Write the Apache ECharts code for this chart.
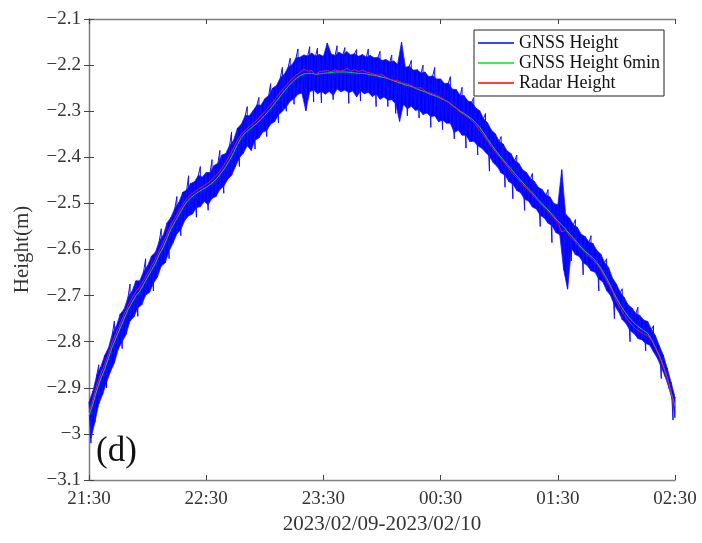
<!DOCTYPE html>
<html>
<head>
<meta charset="utf-8">
<script src="https://cdn.jsdelivr.net/npm/echarts@6/dist/echarts.min.js"></script>
<style>html,body{margin:0;padding:0;background:#fff;}#c{width:702px;height:543px;}</style>
</head>
<body>
<div id="c"></div>
<script>
// Time axis in minutes after 21:30 (2023/02/09). Samples every 2 minutes (0..300).
const SAMPLE_STEP_MIN = 2;
const xTickLabels = ['21:30', '22:30', '23:30', '00:30', '01:30', '02:30'];
const yTickLabels = ['\u22123.1', '\u22123', '\u22122.9', '\u22122.8', '\u22122.7', '\u22122.6', '\u22122.5', '\u22122.4', '\u22122.3', '\u22122.2', '\u22122.1'];
const seriesNames = ['GNSS Height', 'GNSS Height 6min', 'Radar Height'];

// GNSS Height raw noise band: upper and lower excursions read per 2-minute slot
const gnssHigh = [
-2.93,-2.907,-2.872,-2.855,-2.83,-2.813,-2.782,-2.766,-2.74,-2.729,
-2.703,-2.691,-2.668,-2.668,-2.647,-2.635,-2.614,-2.606,-2.581,-2.569,
-2.542,-2.53,-2.51,-2.498,-2.476,-2.471,-2.457,-2.453,-2.439,-2.443,
-2.433,-2.433,-2.418,-2.413,-2.395,-2.392,-2.374,-2.363,-2.337,-2.328,
-2.309,-2.31,-2.299,-2.286,-2.287,-2.273,-2.266,-2.25,-2.244,-2.227,
-2.22,-2.204,-2.199,-2.184,-2.183,-2.178,-2.18,-2.174,-2.18,-2.177,
-2.181,-2.152,-2.176,-2.179,-2.172,-2.177,-2.171,-2.178,-2.175,-2.181,
-2.177,-2.183,-2.179,-2.184,-2.183,-2.19,-2.188,-2.193,-2.191,-2.198,
-2.15,-2.205,-2.202,-2.211,-2.21,-2.217,-2.215,-2.225,-2.223,-2.23,
-2.23,-2.24,-2.239,-2.252,-2.253,-2.266,-2.266,-2.278,-2.28,-2.293,
-2.299,-2.316,-2.325,-2.341,-2.349,-2.365,-2.371,-2.386,-2.392,-2.407,
-2.413,-2.427,-2.433,-2.446,-2.452,-2.465,-2.47,-2.482,-2.486,-2.50,
-2.503,-2.427,-2.523,-2.532,-2.546,-2.552,-2.567,-2.572,-2.584,-2.587,
-2.602,-2.61,-2.628,-2.639,-2.662,-2.675,-2.693,-2.704,-2.72,-2.727,
-2.739,-2.743,-2.753,-2.756,-2.773,-2.787,-2.809,-2.829,-2.857,-2.888,
-2.92
];
const gnssLow = [
-3.01,-2.975,-2.935,-2.914,-2.888,-2.865,-2.846,-2.816,-2.80,-2.784,
-2.755,-2.746,-2.727,-2.72,-2.699,-2.693,-2.673,-2.66,-2.636,-2.629,
-2.603,-2.586,-2.566,-2.557,-2.537,-2.527,-2.523,-2.509,-2.507,-2.496,
-2.503,-2.489,-2.485,-2.47,-2.463,-2.448,-2.439,-2.42,-2.401,-2.391,
-2.375,-2.385,-2.363,-2.358,-2.345,-2.342,-2.328,-2.323,-2.308,-2.30,
-2.291,-2.278,-2.273,-2.263,-2.261,-2.299,-2.258,-2.254,-2.262,-2.257,
-2.263,-2.257,-2.266,-2.252,-2.258,-2.254,-2.26,-2.256,-2.269,-2.256,
-2.262,-2.259,-2.268,-2.263,-2.274,-2.269,-2.276,-2.275,-2.284,-2.322,
-2.285,-2.295,-2.289,-2.298,-2.297,-2.307,-2.304,-2.312,-2.31,-2.323,
-2.319,-2.326,-2.326,-2.347,-2.341,-2.352,-2.352,-2.366,-2.365,-2.375,
-2.38,-2.389,-2.398,-2.412,-2.42,-2.434,-2.439,-2.453,-2.458,-2.472,
-2.477,-2.491,-2.495,-2.508,-2.512,-2.526,-2.531,-2.543,-2.548,-2.563,
-2.568,-2.644,-2.686,-2.598,-2.611,-2.615,-2.629,-2.634,-2.646,-2.649,
-2.664,-2.67,-2.689,-2.70,-2.721,-2.734,-2.752,-2.761,-2.776,-2.782,
-2.793,-2.796,-2.804,-2.807,-2.822,-2.836,-2.856,-2.876,-2.902,-2.932,
-2.965
];
// Isolated GNSS spikes beyond the band edges (minute, height)
const spikeMinutes = [
1,5,9,13,17,21,25,29,33,37,41,45,47,51,55,57,61,63,67,69,
73,77,81,85,87,91,93,97,99,101,103,105,107,113,115,117,119,125,127,131,
133,137,139,143,147,149,153,155,157,163,165,169,171,175,177,181,185,187,191,193,
197,199,203,205,211,213,217,219,223,227,231,235,237,247,249,253,257,261,265,269,
273,277,281,285,289,293,299
];
const spikeValues = [
-3.02,-2.85,-2.90,-2.755,-2.815,-2.675,-2.745,-2.62,-2.69,-2.555,-2.62,-2.485,-2.57,-2.44,-2.53,-2.42,-2.515,-2.405,-2.385,-2.478,
-2.345,-2.42,-2.29,-2.382,-2.27,-2.355,-2.24,-2.325,-2.205,-2.30,-2.185,-2.285,-2.165,-2.16,-2.28,-2.163,-2.282,-2.275,-2.158,-2.162,
-2.283,-2.166,-2.278,-2.165,-2.29,-2.17,-2.29,-2.178,-2.305,-2.31,-2.19,-2.315,-2.20,-2.335,-2.205,-2.34,-2.225,-2.36,-2.248,-2.38,
-2.27,-2.395,-2.305,-2.43,-2.355,-2.465,-2.49,-2.395,-2.515,-2.435,-2.55,-2.47,-2.585,-2.625,-2.535,-2.655,-2.57,-2.69,-2.62,-2.75,
-2.685,-2.80,-2.725,-2.82,-2.765,-2.88,-2.97
];
// GNSS Height 6-min smoothed
const gnss6min = [
-2.96,-2.935,-2.905,-2.88,-2.86,-2.835,-2.81,-2.79,-2.77,-2.75,
-2.73,-2.715,-2.70,-2.69,-2.675,-2.66,-2.645,-2.63,-2.61,-2.595,
-2.575,-2.555,-2.54,-2.525,-2.51,-2.497,-2.488,-2.481,-2.475,-2.47,
-2.465,-2.459,-2.452,-2.443,-2.432,-2.42,-2.406,-2.39,-2.372,-2.357,
-2.347,-2.34,-2.333,-2.326,-2.318,-2.309,-2.299,-2.289,-2.278,-2.267,
-2.256,-2.246,-2.237,-2.229,-2.223,-2.219,-2.218,-2.218,-2.22,-2.219,
-2.218,-2.217,-2.216,-2.215,-2.215,-2.215,-2.215,-2.216,-2.217,-2.218,
-2.218,-2.219,-2.221,-2.222,-2.224,-2.226,-2.228,-2.231,-2.234,-2.237,
-2.24,-2.243,-2.245,-2.248,-2.252,-2.255,-2.258,-2.262,-2.265,-2.268,
-2.272,-2.276,-2.28,-2.287,-2.293,-2.30,-2.305,-2.311,-2.317,-2.325,
-2.335,-2.347,-2.36,-2.372,-2.384,-2.395,-2.405,-2.415,-2.425,-2.435,
-2.445,-2.455,-2.464,-2.473,-2.482,-2.492,-2.501,-2.51,-2.519,-2.528,
-2.538,-2.547,-2.556,-2.566,-2.575,-2.585,-2.595,-2.604,-2.611,-2.618,
-2.628,-2.64,-2.655,-2.67,-2.688,-2.705,-2.72,-2.733,-2.745,-2.755,
-2.763,-2.77,-2.776,-2.782,-2.795,-2.812,-2.83,-2.853,-2.877,-2.91,
-2.94
];
// Radar Height
const radar = [
-2.952,-2.925,-2.895,-2.87,-2.85,-2.826,-2.80,-2.781,-2.761,-2.741,
-2.722,-2.706,-2.692,-2.681,-2.667,-2.652,-2.637,-2.621,-2.602,-2.586,
-2.566,-2.547,-2.532,-2.517,-2.503,-2.49,-2.481,-2.475,-2.469,-2.464,
-2.458,-2.452,-2.444,-2.435,-2.424,-2.411,-2.396,-2.38,-2.363,-2.35,
-2.341,-2.334,-2.327,-2.319,-2.31,-2.301,-2.291,-2.281,-2.27,-2.259,
-2.249,-2.239,-2.23,-2.222,-2.216,-2.209,-2.213,-2.212,-2.221,-2.214,
-2.213,-2.212,-2.214,-2.21,-2.213,-2.212,-2.207,-2.213,-2.21,-2.214,
-2.211,-2.215,-2.217,-2.22,-2.222,-2.221,-2.226,-2.23,-2.233,-2.233,
-2.238,-2.24,-2.242,-2.247,-2.25,-2.249,-2.256,-2.26,-2.262,-2.266,
-2.27,-2.275,-2.281,-2.288,-2.294,-2.302,-2.307,-2.313,-2.32,-2.33,
-2.341,-2.352,-2.364,-2.377,-2.388,-2.398,-2.408,-2.419,-2.43,-2.44,
-2.449,-2.459,-2.468,-2.477,-2.486,-2.495,-2.505,-2.513,-2.522,-2.531,
-2.541,-2.562,-2.558,-2.571,-2.579,-2.589,-2.598,-2.607,-2.615,-2.622,
-2.632,-2.644,-2.659,-2.675,-2.69,-2.712,-2.728,-2.741,-2.754,-2.764,
-2.772,-2.778,-2.783,-2.787,-2.797,-2.813,-2.832,-2.855,-2.879,-2.912,
-2.942
];

const X_MAX = 300;
const lowTime = i => Math.min(i * SAMPLE_STEP_MIN + SAMPLE_STEP_MIN / 2, X_MAX);
// Build series data (band drawn as alternating high/low excursions plus spikes)
const gnssData = [];
for (let i = 0; i < gnssHigh.length; i++) {
  gnssData.push([i * SAMPLE_STEP_MIN, gnssHigh[i], 0]);
  gnssData.push([lowTime(i), gnssLow[i], 2]);
}
spikeMinutes.forEach((m, k) => gnssData.push([m, spikeValues[k], 1]));
gnssData.sort((a, b) => (a[0] - b[0]) || (a[2] - b[2]));
const gnssLine = gnssData.map(p => [p[0], p[1]]);
const g6Data = gnss6min.map((v, i) => [i * SAMPLE_STEP_MIN, v]);
const radarData = radar.map((v, i) => [i * SAMPLE_STEP_MIN, v]);

const serif = 'Liberation Serif';
const chart = echarts.init(document.getElementById('c'), null, {renderer: 'canvas'});
const boxLine = {show: true, lineStyle: {color: '#808080', width: 1.3}};
const tick = {show: true, inside: true, length: 5, lineStyle: {color: '#444', width: 1}};

chart.setOption({
  animation: false,
  backgroundColor: '#fff',
  grid: {left: 89, right: 27, top: 19, bottom: 63, outerBoundsMode: 'none'},
  legend: {
    left: 474, top: 30, orient: 'vertical',
    data: seriesNames,
    icon: 'rect', itemWidth: 36, itemHeight: 1.3, itemGap: 0,
    padding: [3, 4, 3, 4],
    backgroundColor: '#fff', borderColor: '#222', borderWidth: 1,
    textStyle: {fontFamily: serif, fontSize: 18, color: '#111', lineHeight: 20, padding: [0,0,0,0]}
  },
  xAxis: [{
    type: 'value', min: 0, max: X_MAX, interval: 60,
    axisLine: boxLine, axisTick: tick, splitLine: {show: false},
    axisLabel: {fontFamily: serif, fontSize: 19, color: '#333', margin: 10,
      formatter: v => xTickLabels[Math.round(v / 60)]},
    name: '2023/02/09-2023/02/10', nameLocation: 'middle', nameGap: 31,
    nameTextStyle: {fontFamily: serif, fontSize: 21, color: '#333'}
  }, {
    type: 'value', position: 'top', min: 0, max: X_MAX, interval: 60,
    axisLine: boxLine, axisTick: tick, axisLabel: {show: false}, splitLine: {show: false}
  }],
  yAxis: [{
    type: 'value', min: -3.1, max: -2.1, interval: 0.1,
    axisLine: boxLine, axisTick: tick, splitLine: {show: false},
    axisLabel: {fontFamily: serif, fontSize: 19, color: '#333', margin: 8,
      formatter: v => yTickLabels[Math.round((v + 3.1) / 0.1)]},
    name: 'Height(m)', nameLocation: 'middle', nameGap: 56,
    nameTextStyle: {fontFamily: serif, fontSize: 21, color: '#333'}
  }, {
    type: 'value', position: 'right', min: -3.1, max: -2.1, interval: 0.1,
    axisLine: boxLine, axisTick: tick, axisLabel: {show: false}, splitLine: {show: false}
  }],
  graphic: [{
    type: 'text', left: 96, top: 434,
    style: {text: '(d)', font: '35px "Liberation Serif"', fill: '#111'}
  }],
  series: [{
    name: 'GNSS band', type: 'custom', data: [[0, -2.5]], z: 1, silent: true, clip: true,
    renderItem: (params, api) => {
      const pts = [];
      for (let i = 0; i < gnssHigh.length; i++) pts.push(api.coord([i * SAMPLE_STEP_MIN, gnssHigh[i]]));
      for (let i = gnssLow.length - 1; i >= 0; i--) pts.push(api.coord([lowTime(i), gnssLow[i]]));
      return {type: 'polygon', shape: {points: pts}, style: {fill: '#0000ff', stroke: '#2222ff', lineWidth: 0.8}};
    }
  }, {
    name: seriesNames[0], type: 'line', data: gnssLine, showSymbol: false, symbol: 'none', clip: true,
    color: '#0000ff', lineStyle: {color: '#1010ff', width: 1}, z: 2
  }, {
    name: seriesNames[1], type: 'line', data: g6Data, showSymbol: false, symbol: 'none',
    color: '#00ee00', lineStyle: {color: '#00cc77', width: 1}, z: 3
  }, {
    name: seriesNames[2], type: 'line', data: radarData, showSymbol: false, symbol: 'none',
    color: '#ff0000', lineStyle: {color: '#ee1144', width: 1}, z: 4
  }]
});
</script>
</body>
</html>
